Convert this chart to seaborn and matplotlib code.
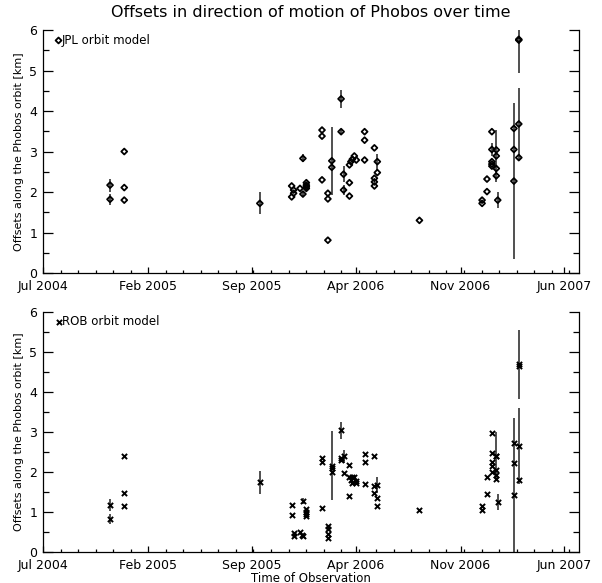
import numpy as np
import pandas as pd
import matplotlib
matplotlib.use("Agg")
import matplotlib.pyplot as plt
import matplotlib.dates as mdates
from matplotlib.ticker import MultipleLocator, AutoMinorLocator, FixedLocator
import seaborn as sns

# JPL orbit model: observation date, offset [km], 1-sigma error [km]
jpl_dates = [
    "2004-11-15", "2004-11-15", "2004-12-14", "2004-12-14", "2004-12-14",
    "2005-09-17", "2005-11-21", "2005-11-21", "2005-11-25", "2005-11-25",
    "2005-12-08", "2005-12-14", "2005-12-14", "2005-12-21", "2005-12-21",
    "2005-12-21", "2005-12-21", "2006-01-22", "2006-01-22", "2006-01-22",
    "2006-02-03", "2006-02-03", "2006-02-03", "2006-02-11", "2006-02-11",
    "2006-03-02", "2006-03-02", "2006-03-07", "2006-03-07", "2006-03-19",
    "2006-03-19", "2006-03-19", "2006-03-22", "2006-03-25", "2006-03-29",
    "2006-04-02", "2006-04-19", "2006-04-19", "2006-04-19", "2006-05-09",
    "2006-05-09", "2006-05-09", "2006-05-09", "2006-05-15", "2006-05-15",
    "2006-08-09", "2006-12-15", "2006-12-15", "2006-12-25", "2006-12-25",
    "2007-01-04", "2007-01-04", "2007-01-04", "2007-01-04", "2007-01-04",
    "2007-01-13", "2007-01-13", "2007-01-13", "2007-01-13", "2007-01-16",
    "2007-02-18", "2007-02-18", "2007-02-18", "2007-02-28", "2007-02-28",
    "2007-02-28", "2007-02-28",
]
jpl_offset = [
    2.17, 1.82, 3.00, 2.11, 1.80,
    1.72, 2.15, 1.88, 2.05, 1.97,
    2.09, 2.83, 1.95, 2.23, 2.17,
    2.13, 2.09, 3.53, 3.38, 2.30,
    1.97, 1.83, 0.81, 2.77, 2.61,
    4.30, 3.49, 2.44, 2.05, 2.67,
    2.23, 1.90, 2.75, 2.81, 2.89,
    2.79, 3.49, 3.28, 2.79, 3.09,
    2.34, 2.25, 2.15, 2.75, 2.48,
    1.30, 1.80, 1.72, 2.32, 2.01,
    3.49, 3.05, 2.75, 2.69, 2.64,
    3.04, 2.89, 2.58, 2.40, 1.80,
    3.57, 3.05, 2.27, 5.77, 5.75,
    3.68, 2.85,
]
jpl_err = [
    0.16, 0.13, 0, 0, 0,
    0.27, 0, 0, 0, 0,
    0, 0.10, 0.08, 0, 0,
    0, 0, 0, 0, 0,
    0, 0, 0, 0.84, 0,
    0.23, 0.06, 0.20, 0.12, 0,
    0, 0, 0, 0, 0,
    0, 0, 0, 0, 0,
    0, 0, 0, 0.20, 0,
    0, 0, 0, 0, 0,
    0, 0.15, 0, 0, 0,
    0, 0.65, 0, 0, 0.20,
    0, 0, 1.92, 0.84, 0,
    0.90, 0,
]

# ROB orbit model
rob_dates = [
    "2004-11-15", "2004-11-15", "2004-12-14", "2004-12-14", "2004-12-14",
    "2005-09-17", "2005-11-21", "2005-11-21", "2005-11-25", "2005-11-25",
    "2005-12-08", "2005-12-12", "2005-12-14", "2005-12-14", "2005-12-21",
    "2005-12-21", "2005-12-21", "2005-12-21", "2006-01-22", "2006-01-22",
    "2006-01-22", "2006-02-03", "2006-02-03", "2006-02-03", "2006-02-03",
    "2006-02-11", "2006-02-11", "2006-02-11", "2006-03-02", "2006-03-02",
    "2006-03-02", "2006-03-07", "2006-03-07", "2006-03-19", "2006-03-19",
    "2006-03-19", "2006-03-22", "2006-03-25", "2006-03-25", "2006-03-29",
    "2006-04-02", "2006-04-02", "2006-04-19", "2006-04-19", "2006-04-19",
    "2006-05-09", "2006-05-09", "2006-05-09", "2006-05-15", "2006-05-15",
    "2006-05-15", "2006-08-09", "2006-12-15", "2006-12-15", "2006-12-25",
    "2006-12-25", "2007-01-04", "2007-01-04", "2007-01-04", "2007-01-04",
    "2007-01-05", "2007-01-13", "2007-01-13", "2007-01-13", "2007-01-13",
    "2007-01-13", "2007-01-16", "2007-02-18", "2007-02-18", "2007-02-18",
    "2007-02-28", "2007-02-28", "2007-02-28", "2007-02-28",
]
rob_offset = [
    1.17, 0.82, 2.38, 1.46, 1.13,
    1.73, 1.17, 0.92, 0.46, 0.38,
    0.48, 0.42, 0.38, 1.27, 1.06,
    1.00, 0.94, 0.89, 2.34, 2.23,
    1.08, 0.64, 0.56, 0.44, 0.33,
    2.15, 2.08, 2.00, 3.03, 2.34,
    2.29, 2.38, 1.96, 2.17, 1.86,
    1.38, 1.78, 1.86, 1.72, 1.86,
    1.77, 1.71, 2.43, 2.25, 1.69,
    2.39, 1.63, 1.46, 1.67, 1.33,
    1.13, 1.04, 1.14, 1.04, 1.86,
    1.44, 2.96, 2.46, 2.23, 2.13,
    2.00, 2.40, 2.38, 2.04, 1.92,
    1.82, 1.23, 2.71, 2.21, 1.41,
    4.68, 4.64, 2.64, 1.78,
]
rob_err = [
    0.15, 0.13, 0, 0, 0,
    0.28, 0, 0, 0, 0,
    0, 0, 0, 0.08, 0,
    0, 0, 0, 0, 0,
    0, 0, 0, 0, 0,
    0.86, 0, 0, 0.22, 0,
    0, 0.17, 0, 0, 0,
    0, 0, 0, 0, 0,
    0, 0, 0, 0, 0,
    0, 0, 0, 0.20, 0,
    0, 0, 0, 0, 0,
    0, 0, 0, 0, 0,
    0, 0.60, 0, 0, 0,
    0, 0.20, 0, 0, 1.93,
    0.86, 0, 0.95, 0,
]

major_dates = ["2004-07-01", "2005-02-01", "2005-09-01", "2006-04-01", "2006-11-01", "2007-06-01"]
major_labels = ["Jul 2004", "Feb 2005", "Sep 2005", "Apr 2006", "Nov 2006", "Jun 2007"]

jpl = pd.DataFrame({"date": pd.to_datetime(jpl_dates), "offset": jpl_offset, "err": jpl_err})
rob = pd.DataFrame({"date": pd.to_datetime(rob_dates), "offset": rob_offset, "err": rob_err})

sns.set_style("ticks")
plt.rcParams["font.family"] = ["DejaVu Sans"]
plt.rcParams["text.color"] = "black"
plt.rcParams["axes.labelcolor"] = "black"
plt.rcParams["xtick.color"] = "black"
plt.rcParams["ytick.color"] = "black"

fig = plt.figure(figsize=(6.02, 5.83), dpi=100)
ax1 = fig.add_axes([0.0714, 0.5317, 0.8904, 0.4168])
ax2 = fig.add_axes([0.0714, 0.0537, 0.8904, 0.4117])


def draw(ax, df, marker, label):
    bars = df[df["err"] > 0]
    ax.vlines(bars["date"], bars["offset"] - bars["err"], bars["offset"] + bars["err"],
              color="#505050", lw=1.4, zorder=2)
    if marker == "D":
        sns.scatterplot(data=df, x="date", y="offset", ax=ax, marker="D", s=9,
                        facecolor="none", edgecolor="black", linewidth=1.3,
                        label=label, zorder=3)
    else:
        sns.scatterplot(data=df, x="date", y="offset", ax=ax, marker="x", s=14,
                        color="black", linewidth=1.4, label=label, zorder=3)

    ax.set_xlim(pd.Timestamp("2004-07-01"), pd.Timestamp("2007-07-01"))
    ax.set_ylim(0, 6)
    ax.xaxis.set_major_locator(FixedLocator(mdates.date2num(pd.to_datetime(major_dates))))
    ax.set_xticklabels(major_labels)
    ax.xaxis.set_minor_locator(AutoMinorLocator(6))
    ax.yaxis.set_major_locator(MultipleLocator(1))
    ax.yaxis.set_minor_locator(MultipleLocator(0.5))
    ax.tick_params(axis="both", which="both", direction="in", labelsize=9, color="black",
                   labelcolor="black", width=0.9, right=True, top=False)
    ax.tick_params(axis="y", which="major", length=7, pad=4)
    ax.tick_params(axis="y", which="minor", length=4)
    ax.tick_params(axis="x", which="major", length=4.5, pad=5)
    ax.tick_params(axis="x", which="minor", length=2.5)
    for side in ["left", "right", "bottom"]:
        ax.spines[side].set_color("black")
        ax.spines[side].set_linewidth(0.9)
    ax.spines["top"].set_visible(False)
    ax.set_xlabel("")
    ax.set_ylabel("Offsets along the Phobos orbit [km]", fontsize=8)
    ax.yaxis.set_label_coords(-0.035, 0.5)
    ax.legend(loc="upper left", bbox_to_anchor=(0.018, 1.0), frameon=False, fontsize=8.5,
              handlelength=0.4, handletextpad=0.1, borderaxespad=0.2, borderpad=0.1,
              labelcolor="black")


draw(ax1, jpl, "D", "JPL orbit model")
draw(ax2, rob, "x", "ROB orbit model")

fig.text(0.5166, 0.978, "Offsets in direction of motion of Phobos over time",
         ha="center", va="center", fontsize=11.5)
fig.text(0.5166, 1 - 578 / 583, "Time of Observation", ha="center", va="center", fontsize=8.5)

fig.savefig("out.png", dpi=100)
